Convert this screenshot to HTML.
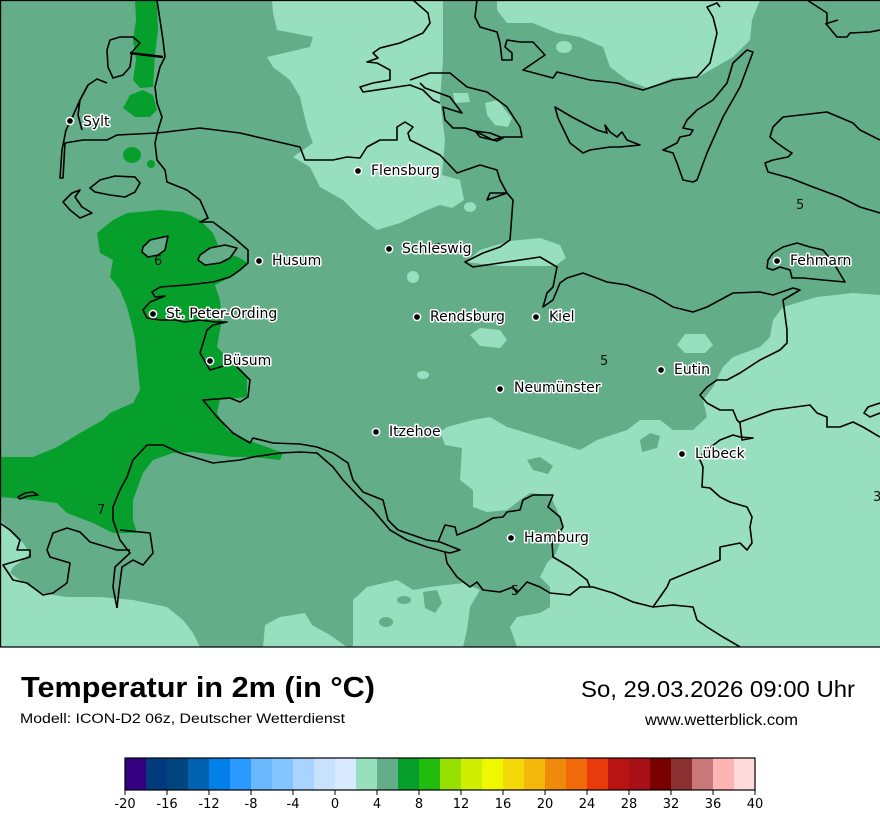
<!DOCTYPE html>
<html><head><meta charset="utf-8"><style>
html,body{margin:0;padding:0;background:#fff;}
svg{display:block;}
.c{font-family:"DejaVu Sans","Liberation Sans",sans-serif;font-size:14px;fill:#000;stroke:#fff;stroke-width:3px;paint-order:stroke;stroke-linejoin:round;}
.cl{font-family:"DejaVu Sans","Liberation Sans",sans-serif;font-size:13px;fill:#111;}
.t{font-family:"DejaVu Sans","Liberation Sans",sans-serif;font-size:13px;fill:#000;}
</style></head><body>
<svg width="880" height="830" viewBox="0 0 880 830" xmlns="http://www.w3.org/2000/svg">
<defs><clipPath id="m"><rect x="0" y="0" width="880" height="647"/></clipPath></defs>
<g clip-path="url(#m)">
<rect x="0" y="0" width="880" height="647" fill="#63ae89"/>
<g fill="#97dfbf">
<path d="M272,0 L443,0 L443,60 L440,100 L445,140 L442,175 L460,180 L464,200 L452,208 L440,205 L427,210 L400,223 L377,230 L360,217 L343,200 L320,187 L310,167 L293,157 L313,143 L307,127 L300,97 L290,80 L273,67 L267,57 L310,47 L313,37 L277,30 L273,13 Z"/>
<path d="M497,0 L760,0 L752,20 L750,40 L733,57 L700,76 L673,78 L647,88 L627,80 L610,67 L603,47 L580,37 L557,33 L533,23 L507,23 L497,10 Z"/>
<ellipse cx="564" cy="47" rx="8" ry="6"/>
<path d="M485,103 L498,100 L505,110 L512,118 L508,127 L495,125 L487,115 Z"/>
<path d="M453,93 L468,93 L470,102 L455,103 Z"/>
<path d="M466,262 L480,250 L510,241 L540,238 L560,245 L566,258 L555,266 L500,266 Z"/>
<path d="M880,295 L853,293 L817,297 L783,307 L773,320 L770,337 L760,347 L733,357 L723,367 L713,387 L703,400 L707,417 L693,430 L673,430 L660,420 L640,420 L627,430 L597,440 L580,450 L540,437 L507,427 L490,417 L473,420 L447,427 L440,432 L445,445 L462,448 L460,480 L473,490 L473,507 L487,512 L507,510 L520,500 L530,493 L550,495 L557,510 L563,527 L560,543 L555,555 L547,563 L540,577 L550,587 L550,607 L540,613 L517,617 L510,627 L517,647 L880,647 Z"/>
<path d="M353,600 L367,587 L397,580 L413,590 L430,587 L463,583 L480,590 L470,607 L467,630 L463,647 L353,647 Z"/>
<path d="M0,520 L13,533 L23,543 L30,553 L23,560 L13,567 L10,573 L20,580 L40,593 L67,597 L100,597 L133,600 L167,607 L183,620 L193,633 L200,647 L0,647 Z"/>
<path d="M263,647 L265,625 L280,617 L305,613 L312,625 L330,635 L347,647 Z"/>
<path d="M470,335 L480,328 L500,330 L507,340 L500,348 L480,346 Z"/>
<path d="M677,345 L685,334 L705,334 L713,345 L705,353 L685,353 Z"/>
<ellipse cx="423" cy="375" rx="6" ry="4"/>
<ellipse cx="413" cy="277" rx="6" ry="6"/>
<ellipse cx="470" cy="207" rx="6" ry="5"/>
</g>
<g fill="#63ae89">
<path d="M640,440 L650,433 L660,436 L657,448 L642,452 Z"/>
<path d="M527,460 L540,457 L553,466 L548,474 L533,470 Z"/>
<ellipse cx="386" cy="622" rx="7" ry="5"/>
<ellipse cx="404" cy="600" rx="7" ry="4"/>
<path d="M423,592 L437,590 L442,603 L435,613 L425,608 Z"/>
</g>
<g fill="#079f2b">
<path d="M135,0 L157,0 L158,30 L155,55 L153,87 L140,88 L133,80 L136,60 L133,40 L136,20 Z"/>
<path d="M123,108 L130,95 L143,90 L153,95 L157,110 L150,117 L135,117 Z"/>
<ellipse cx="132" cy="155" rx="9" ry="8"/>
<ellipse cx="151" cy="164" rx="4" ry="4"/>
<path d="M97,233 L113,220 L127,213 L160,210 L183,212 L200,220 L213,233 L220,250 L240,258 L248,263 L235,275 L215,285 L220,300 L222,320 L220,330 L217,347 L233,363 L247,377 L247,397 L220,400 L217,413 L227,430 L247,440 L267,447 L283,453 L280,460 L253,457 L233,457 L193,452 L173,453 L153,460 L143,473 L133,500 L133,520 L137,533 L113,533 L93,523 L67,513 L57,503 L33,500 L0,497 L0,457 L33,457 L57,447 L80,433 L103,420 L110,413 L133,403 L140,390 L137,360 L135,340 L133,330 L127,307 L120,290 L110,277 L113,260 L100,253 Z"/>
</g>
<g fill="#63ae89" stroke="#000" stroke-width="1.6" stroke-linejoin="round">
<path d="M143,247 L150,240 L168,236 L165,250 L158,255 L148,257 L142,252 Z"/>
<path d="M200,255 L210,248 L225,245 L237,248 L230,258 L220,263 L205,265 L198,260 Z"/>
</g>
<g fill="none" stroke="#000" stroke-width="1.6" stroke-linejoin="round">
<path d="M157,0 L160,20 L163,40 L165,57 L160,67 L155,87 L157,103 L162,117 L158,130 L155,143 L157,160 L165,170 L167,182 L187,190 L200,200 L208,218 L200,222 L213,222 L233,237 L248,250 L248,263 L240,270 L230,277 L213,282 L187,285 L160,287 L152,292 L155,297 L165,296 L150,302 L143,310 L147,318 L160,320 L175,320 L185,322 L200,320 L215,322 L227,322 L213,325 L207,330 L200,353 L210,370 L220,367 L233,363 L240,370 L250,380 L248,397 L240,402 L230,398 L203,400 L217,417 L233,433 L250,443 L253,438 L273,443 L300,444 L317,447 L333,453 L348,463 L353,480 L363,492 L383,500 L388,520 L398,530 L427,540 L440,542 L460,550 L450,553 L445,552"/>
<path d="M117,608 L113,587 L115,567 L130,553 L120,540 L113,520 L113,507 L120,490 L127,477 L133,460 L147,445 L163,445 L180,453 L213,463 L240,460 L253,457 L280,453 L300,452 L317,453 L333,467 L343,480 L358,496 L373,510 L390,530 L407,540 L427,547 L445,552 L447,563 L457,577 L470,587 L477,582 L483,590 L500,592 L513,587 L517,593 L527,582 L540,587 L550,593 L570,595 L580,587 L593,587 L613,593 L633,602 L653,607 L673,605 L693,607 L697,620 L707,627 L723,637 L742,648"/>
<path d="M0,523 L10,530 L20,540 L17,550 L30,550 L30,557 L20,560 L3,565 L13,580 L27,583 L43,595 L53,593 L67,583 L70,563 L50,557 L47,550 L53,533 L67,528 L80,532 L90,542 L117,550 L130,550"/>
<path d="M120,530 L150,533 L153,553 L143,565 L133,560 L122,567 L119,590 L117,608"/>
<path d="M18,497 L25,493 L33,492 L38,495 L28,496 L20,499 Z"/>
<path d="M107,83 L97,79 L88,85 L80,100 L72,118 L66,130 L62,150 L60,178 L63,178 L65,143 L83,140 L107,140 L117,135 L157,133 L200,128 L240,133 L300,147 L305,160 L333,160 L347,157 L360,158 L367,147 L380,140 L397,140 L397,127 L405,122 L413,127 L408,133 L410,140 L430,150 L440,155 L457,173 L480,165 L497,170 L500,180 L507,193 L490,193 L487,200 L507,193 L513,200 L510,240 L500,247 L483,253 L465,262 L473,267 L540,257 L557,267 L553,287 L547,293 L543,307 L553,300 L560,283 L567,278 L583,273 L607,282 L627,285 L653,295 L673,307 L693,312 L707,307 L733,293 L760,292 L773,295 L793,288 L800,290 L783,300 L787,330 L787,343 L780,350 L760,360 L740,373 L727,380 L717,380 L707,387 L700,395 L707,403 L720,410 L733,410 L737,420 L740,423 L742,440 L753,438 L740,437 L733,435 L720,440 L703,453 L700,460 L703,467 L702,487 L710,488 L720,497 L730,502 L747,507 L752,517 L750,527 L752,543 L747,550 L740,543 L720,547 L720,560 L687,573 L670,580 L667,587 L653,607"/>
<path d="M88,85 L80,100 L78,115 L82,130"/>
<path d="M740,422 L773,410 L810,405 L817,413 L827,417 L827,427 L840,427 L853,422 L863,427 L880,437"/>
<path d="M880,403 L868,407 L864,413 L870,417 L880,413"/>
<path d="M110,40 L120,37 L133,37 L140,43 L132,52 L130,67 L123,75 L113,78 L108,67 L107,50 Z"/>
<path d="M90,188 L100,180 L115,176 L135,177 L140,183 L135,192 L125,197 L110,195 L95,192 Z"/>
<path d="M63,202 L72,193 L80,190 L75,197 L82,207 L92,213 L80,218 L70,210 Z"/>
<path d="M413,0 L428,13 L430,23 L423,33 L400,43 L380,48 L373,53 L378,58 L367,62 L377,63 L390,70 L390,80 L373,83 L360,87 L363,92 L390,88 L410,85 L423,90 L433,100 L440,103"/>
<path d="M410,80 L430,73 L450,73 L467,87 L487,92 L507,107 L520,127 L522,137 L503,137 L493,140 L477,132 L465,128 L453,128 L445,120 L443,107 L452,110 L462,113 L450,97 L425,88 L420,83"/>
<path d="M475,131 L490,133 L503,138 L497,141 L480,137 Z"/>
<path d="M477,0 L475,17 L480,27 L497,32 L500,43 L502,60 L512,60 L512,53 L505,47 L507,40 L520,42 L533,42 L545,55 L523,70 L553,78 L557,72 L590,80 L617,83 L643,90 L673,80 L697,77 L710,63 L717,33 L713,17 L707,7 L717,3 L720,7"/>
<path d="M555,107 L572,117 L597,130 L607,133 L605,125 L610,132 L617,137 L622,132 L627,140 L640,145 L620,147 L610,147 L590,150 L583,153 L570,143 L558,118 Z"/>
<path d="M753,52 L747,50 L733,63 L727,83 L713,100 L697,110 L687,120 L683,128 L693,130 L690,135 L680,137 L677,143 L663,150 L673,153 L677,163 L683,180 L693,182 L697,180 L707,153 L723,117 L740,87 Z"/>
<path d="M880,140 L860,130 L853,123 L827,112 L783,117 L773,127 L770,137 L777,143 L787,150 L792,153 L788,157 L773,160 L765,163 L768,172 L790,178 L813,187 L840,197 L860,207 L880,213"/>
<path d="M768,260 L773,253 L783,247 L797,243 L810,247 L823,250 L833,262 L845,282 L823,280 L803,278 L792,278 L790,270 L780,267 L773,270 L767,268 Z"/>
<path d="M807,0 L827,13 L827,25 L837,37 L847,37 L850,33 L870,32 L880,30"/>
<path d="M825,24 L838,20"/>
<path d="M438,542 L445,525 L455,527 L457,535 L477,527 L493,518 L503,517 L507,512 L520,510 L523,500 L533,495 L553,495 L548,507 L560,517 L563,527 L552,543 L553,557 L570,567 L587,580 L590,587"/>
</g>
<path d="M130,53 L163,57" stroke="#000" stroke-width="2.6" fill="none"/>
<g class="cl">
<text x="154" y="265">6</text>
<text x="433" y="253">5</text>
<text x="796" y="209">5</text>
<text x="600" y="365">5</text>
<text x="97" y="514">7</text>
<text x="511" y="595">5</text>
<text x="873" y="501">3</text>
</g>
<g fill="#000" stroke="#fff" stroke-width="1.5">
<circle cx="70" cy="121" r="3.6"/>
<circle cx="358" cy="171" r="3.6"/>
<circle cx="389" cy="249" r="3.6"/>
<circle cx="259" cy="261" r="3.6"/>
<circle cx="153" cy="314" r="3.6"/>
<circle cx="417" cy="317" r="3.6"/>
<circle cx="536" cy="317" r="3.6"/>
<circle cx="210" cy="361" r="3.6"/>
<circle cx="500" cy="389" r="3.6"/>
<circle cx="661" cy="370" r="3.6"/>
<circle cx="777" cy="261" r="3.6"/>
<circle cx="376" cy="432" r="3.6"/>
<circle cx="682" cy="454" r="3.6"/>
<circle cx="511" cy="538" r="3.6"/>
</g>
<g class="c">
<text x="83" y="126">Sylt</text>
<text x="371" y="175">Flensburg</text>
<text x="402" y="253">Schleswig</text>
<text x="272" y="265">Husum</text>
<text x="166" y="318">St. Peter-Ording</text>
<text x="430" y="321">Rendsburg</text>
<text x="549" y="321">Kiel</text>
<text x="223" y="365">Büsum</text>
<text x="514" y="392">Neumünster</text>
<text x="674" y="374">Eutin</text>
<text x="790" y="265">Fehmarn</text>
<text x="389" y="436">Itzehoe</text>
<text x="695" y="458">Lübeck</text>
<text x="524" y="542">Hamburg</text>
</g>
</g>
<path d="M0.5,647 L0.5,0.5 L880,0.5 M0,647 L880,647" stroke="#000" stroke-width="1.3" fill="none"/>
<text x="21" y="697" font-family="Liberation Sans, Arial, sans-serif" font-weight="bold" font-size="29" textLength="354" lengthAdjust="spacingAndGlyphs">Temperatur in 2m (in °C)</text>
<text x="20" y="723" font-family="Liberation Sans, Arial, sans-serif" font-size="13.5" textLength="325" lengthAdjust="spacingAndGlyphs">Modell: ICON-D2 06z, Deutscher Wetterdienst</text>
<text x="581" y="697" font-family="Liberation Sans, Arial, sans-serif" font-size="23" textLength="274" lengthAdjust="spacingAndGlyphs">So, 29.03.2026 09:00 Uhr</text>
<text x="645" y="725" font-family="Liberation Sans, Arial, sans-serif" font-size="15.5" textLength="153" lengthAdjust="spacingAndGlyphs">www.wetterblick.com</text>
<g stroke="none">
<rect x="125" y="758" width="21" height="32" fill="#330080"/>
<rect x="146" y="758" width="21" height="32" fill="#023a7e"/>
<rect x="167" y="758" width="21" height="32" fill="#00467e"/>
<rect x="188" y="758" width="21" height="32" fill="#0062b0"/>
<rect x="209" y="758" width="21" height="32" fill="#0080e8"/>
<rect x="230" y="758" width="21" height="32" fill="#2a9aff"/>
<rect x="251" y="758" width="21" height="32" fill="#6cb8ff"/>
<rect x="272" y="758" width="21" height="32" fill="#84c4ff"/>
<rect x="293" y="758" width="21" height="32" fill="#a8d4ff"/>
<rect x="314" y="758" width="21" height="32" fill="#c6e2ff"/>
<rect x="335" y="758" width="21" height="32" fill="#d8eaff"/>
<rect x="356" y="758" width="21" height="32" fill="#97dfbf"/>
<rect x="377" y="758" width="21" height="32" fill="#63ae89"/>
<rect x="398" y="758" width="21" height="32" fill="#079f2b"/>
<rect x="419" y="758" width="21" height="32" fill="#22bc0c"/>
<rect x="440" y="758" width="21" height="32" fill="#98e000"/>
<rect x="461" y="758" width="21" height="32" fill="#d0ef00"/>
<rect x="482" y="758" width="21" height="32" fill="#f0f800"/>
<rect x="503" y="758" width="21" height="32" fill="#f4d808"/>
<rect x="524" y="758" width="21" height="32" fill="#f4b80a"/>
<rect x="545" y="758" width="21" height="32" fill="#f08a0c"/>
<rect x="566" y="758" width="21" height="32" fill="#f06a0a"/>
<rect x="587" y="758" width="21" height="32" fill="#e83a0a"/>
<rect x="608" y="758" width="21" height="32" fill="#b81414"/>
<rect x="629" y="758" width="21" height="32" fill="#a81018"/>
<rect x="650" y="758" width="21" height="32" fill="#780000"/>
<rect x="671" y="758" width="21" height="32" fill="#8a3030"/>
<rect x="692" y="758" width="21" height="32" fill="#c87878"/>
<rect x="713" y="758" width="21" height="32" fill="#ffb4b4"/>
<rect x="734" y="758" width="21" height="32" fill="#ffdada"/>
</g>
<rect x="125" y="758" width="630" height="32" fill="none" stroke="#000" stroke-width="1.2"/>
<g stroke="#000" stroke-width="1">
<path d="M125,790 V795 M167,790 V795 M209,790 V795 M251,790 V795 M293,790 V795 M335,790 V795 M377,790 V795 M419,790 V795 M461,790 V795 M503,790 V795 M545,790 V795 M587,790 V795 M629,790 V795 M671,790 V795 M713,790 V795 M755,790 V795"/>
</g>
<g class="t" text-anchor="middle">
<text x="125" y="808">-20</text>
<text x="167" y="808">-16</text>
<text x="209" y="808">-12</text>
<text x="251" y="808">-8</text>
<text x="293" y="808">-4</text>
<text x="335" y="808">0</text>
<text x="377" y="808">4</text>
<text x="419" y="808">8</text>
<text x="461" y="808">12</text>
<text x="503" y="808">16</text>
<text x="545" y="808">20</text>
<text x="587" y="808">24</text>
<text x="629" y="808">28</text>
<text x="671" y="808">32</text>
<text x="713" y="808">36</text>
<text x="755" y="808">40</text>
</g>
</svg>
</body></html>
